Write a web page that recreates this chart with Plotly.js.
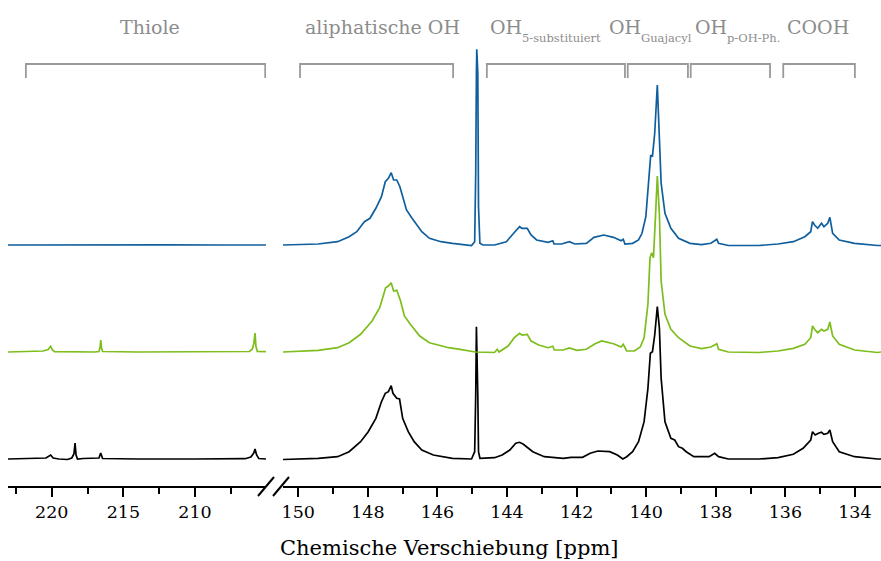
<!DOCTYPE html>
<html>
<head>
<meta charset="utf-8">
<script src="https://cdn.plot.ly/plotly-3.0.1.min.js"></script>
<style>
  html, body { margin: 0; padding: 0; background: #fff; }
  #chart { width: 881px; height: 561px; }
</style>
</head>
<body>
<div id="chart"></div>
<script>
// 31P NMR spectra (three samples), shift in ppm, intensity in arbitrary units.
// Left panel: thiol region (223–205 ppm); right panel: 150.4–133.3 ppm.

// ---- Thiol region ----
const leftPpmBlue   = [223.05, 220.0, 216.0, 212.0, 208.0, 205.05];
const leftIntBlue   = [0, 0.2, 0, 0.2, 0, 0];

const leftPpmGreen  = [223.05, 221.5, 220.6, 220.25, 220.07, 219.95, 219.8, 217.0, 216.7, 216.62, 216.58, 216.52, 216.45, 214.0, 210.0, 207.0, 206.2, 206.0, 205.9, 205.81, 205.75, 205.65, 205.05];
const leftIntGreen  = [0, 0.5, 1, 2.5, 5.7, 2, 0.3, 0, 0.5, 5, 12, 4, 0.5, 0, 0, 0, 0.5, 3, 8, 19, 6, 0.5, 0.3];

const leftPpmBlack  = [223.05, 221.0, 220.4, 220.07, 219.9, 219.5, 218.9, 218.6, 218.45, 218.37, 218.3, 218.2, 217.8, 216.7, 216.58, 216.45, 214.0, 210.0, 206.5, 206.1, 205.9, 205.81, 205.7, 205.55, 205.05];
const leftIntBlack  = [0, 0.5, 1, 4, 1, 0, -0.5, 1, 5, 16, 4, 0, 0.5, 1, 6, 0.5, 0, 0, 0.3, 2, 6, 10, 4, 0.5, 0];

// ---- Aliphatic OH, phenolic OH and COOH region ----
const rightPpmBlue = [150.44, 149.43, 148.87, 148.54, 148.32, 148.10, 147.94, 147.77, 147.61, 147.50, 147.41, 147.33, 147.26, 147.17, 147.08, 147.00, 146.89, 146.73, 146.62, 146.45, 146.23, 145.90, 145.57, 145.24, 145.02, 144.93, 144.90, 144.88, 144.87, 144.84, 144.82, 144.78, 144.69, 144.36, 144.02, 143.81, 143.64, 143.57, 143.42, 143.31, 143.15, 142.82, 142.684, 142.65, 142.43, 142.21, 142.05, 141.72, 141.50, 141.22, 140.94, 140.72, 140.66, 140.61, 140.39, 140.22, 140.12, 140.01, 139.90, 139.87, 139.82, 139.755, 139.68, 139.62, 139.57, 139.46, 139.29, 139.07, 138.74, 138.41, 138.14, 137.97, 137.92, 137.64, 136.76, 136.21, 135.77, 135.44, 135.27, 135.22, 135.16, 135.07, 134.96, 134.89, 134.78, 134.72, 134.64, 134.45, 134.01, 133.35, 133.25];
const rightIntBlue = [0, 1, 3.3, 8.3, 13.3, 23.3, 26.7, 36.7, 48.3, 63.3, 66.7, 72.3, 65, 65, 58.3, 48.3, 35, 26.7, 21.7, 13.3, 6.7, 3.3, 1.7, 0, -0.5, 3.3, 71.7, 171.7, 195.7, 171.7, 38.3, 1.7, 0, 0, 3.3, 11.7, 18.3, 16.7, 16.7, 10, 5, 2.7, 4.3, 1, 1, 3.3, 1, 1.7, 7.7, 10, 7.7, 4.3, 5.7, 1, 1.7, 5, 11.7, 28.3, 71.7, 90, 88.3, 111.7, 160, 111.7, 61.7, 31.7, 16.7, 6.7, 1.7, 0.3, 1.7, 5.7, 1.7, -0.5, -0.5, 1, 3.3, 8.3, 13.3, 23.3, 20, 16.7, 21.7, 18.3, 21.7, 27.7, 11.7, 5, 1.7, -0.5, -0.5];

const rightPpmGreen = [150.44, 149.43, 148.87, 148.54, 148.21, 147.88, 147.66, 147.55, 147.49, 147.41, 147.33, 147.26, 147.17, 147.06, 146.95, 146.78, 146.67, 146.51, 146.23, 145.90, 145.68, 145.35, 144.91, 144.36, 144.28, 144.23, 143.97, 143.79, 143.64, 143.57, 143.42, 143.31, 143.09, 142.82, 142.684, 142.64, 142.38, 142.21, 141.99, 141.72, 141.47, 141.28, 140.94, 140.72, 140.66, 140.56, 140.34, 140.17, 140.06, 139.95, 139.89, 139.84, 139.79, 139.73, 139.68, 139.62, 139.57, 139.46, 139.29, 139.07, 138.74, 138.41, 138.14, 137.97, 137.92, 137.64, 136.76, 136.21, 135.77, 135.44, 135.27, 135.22, 135.16, 135.07, 134.96, 134.89, 134.78, 134.72, 134.64, 134.45, 134.01, 133.35, 133.25];
const rightIntGreen = [0, 1.7, 4.3, 9.3, 17.7, 31, 44.3, 57.7, 64.3, 66, 69.3, 61, 61.7, 51, 36, 27.7, 22.7, 16, 9.3, 6, 4.3, 2.7, 0, -0.5, 2.7, 0, 6, 14.3, 18.7, 17, 17.7, 11, 7, 4.3, 5.7, 2, 2, 4, 1.7, 2.7, 8.3, 11, 8.3, 5, 7.7, 1, 1, 5, 14.3, 47.7, 94.3, 99.3, 94.3, 137.7, 176, 137.7, 71, 37.7, 22.7, 14.3, 6, 3.3, 5, 8.3, 2.7, 0, -0.5, 1, 3.7, 7.7, 14.3, 26, 22.7, 19.3, 22.7, 21, 22.7, 30, 16, 7.7, 2, -0.5, 0];

const rightPpmBlack = [150.44, 149.43, 148.87, 148.54, 148.21, 147.99, 147.77, 147.61, 147.50, 147.41, 147.33, 147.28, 147.17, 147.09, 147.00, 146.84, 146.67, 146.45, 146.12, 145.57, 145.02, 144.93, 144.90, 144.88, 144.84, 144.82, 144.78, 144.36, 144.14, 143.92, 143.75, 143.64, 143.53, 143.42, 143.26, 142.93, 142.684, 142.38, 142.16, 141.83, 141.61, 141.39, 141.05, 140.83, 140.67, 140.56, 140.39, 140.22, 140.06, 139.95, 139.88, 139.82, 139.755, 139.68, 139.62, 139.57, 139.46, 139.29, 139.18, 139.07, 138.96, 138.85, 138.63, 138.19, 138.03, 137.92, 137.64, 136.76, 136.21, 135.77, 135.49, 135.27, 135.22, 135.14, 135.05, 134.96, 134.89, 134.78, 134.72, 134.64, 134.45, 134.01, 133.35, 133.25];
const rightIntBlack = [-0.5, 0.7, 2.3, 7.3, 17.3, 27.3, 40.7, 57.3, 65.7, 67.3, 73.3, 65.7, 60.7, 60, 40.7, 27.3, 17.3, 9, 4, 0.7, 0, 7.3, 64, 132.3, 64, 7.3, 0.7, 1.3, 4, 9, 15.7, 16.7, 14.7, 11.3, 7.3, 2.3, 1.3, 0.7, 1.7, 1.7, 5.7, 8, 7.3, 4, 0, 2.3, 7.3, 17.3, 37.3, 70.7, 105.7, 107.3, 124, 152.3, 130.7, 80.7, 37.3, 20.7, 19, 12.3, 10.7, 7.3, 2.3, 2.3, 5.7, 2.3, 0, 0, 1.3, 4.7, 10.7, 19, 27.3, 24, 25.7, 26.7, 24.7, 25.7, 29, 17.3, 7.3, 2.3, 0, 0];

// Assignment regions shown as brackets above the spectra
const regionLabels = ['Thiole', 'aliphatische OH', 'OH', 'OH', 'OH', 'COOH'];
const regionSubs   = ['', '', '5-substituiert', 'Guajacyl', 'p-OH-Ph.', ''];
const regionStart  = [221.8, 149.95, 144.58, 140.53, 138.72, 136.06];
const regionEnd    = [205.1, 145.55, 140.61, 138.80, 136.44, 134.0];
const regionAxis   = ['x', 'x2', 'x2', 'x2', 'x2', 'x2'];

const axisTitle = 'Chemische Verschiebung [ppm]';

// ---- drawing ----
const W = 881, H = 561, PLOT_H = 486;
const FONT = 'DejaVu Serif, Liberation Serif, serif';
const colors = { blue: '#0f5f9e', green: '#7dbd1c', black: '#000000' };
const stackBase = 27, stackStep = 107;

function shifted(arr, off) { return arr.map(v => v + off); }

const series = [
  { name: 'black', lx: leftPpmBlack, ly: leftIntBlack, rx: rightPpmBlack, ry: rightIntBlack, off: stackBase },
  { name: 'green', lx: leftPpmGreen, ly: leftIntGreen, rx: rightPpmGreen, ry: rightIntGreen, off: stackBase + stackStep },
  { name: 'blue',  lx: leftPpmBlue,  ly: leftIntBlue,  rx: rightPpmBlue,  ry: rightIntBlue,  off: stackBase + 2 * stackStep }
];

const traces = [];
series.forEach(s => {
  const line = { color: colors[s.name], width: 1.7 };
  traces.push({ x: s.lx, y: shifted(s.ly, s.off), xaxis: 'x', yaxis: 'y', mode: 'lines', line, hoverinfo: 'skip' });
  traces.push({ x: s.rx, y: shifted(s.ry, s.off), xaxis: 'x2', yaxis: 'y', mode: 'lines', line, hoverinfo: 'skip' });
});

const axisCommon = {
  anchor: 'y', autorange: false, showline: true, linecolor: '#000', linewidth: 2,
  ticks: 'outside', ticklen: 9, tickwidth: 2, tickcolor: '#000', tick0: 0,
  showgrid: false, zeroline: false, fixedrange: true,
  tickfont: { family: FONT, size: 17.5, color: '#000' }
};

const px = v => v / W;
const py = v => PLOT_H - v;          // pixel row -> y data (1 unit per px)
const ppy = v => (PLOT_H - v) / PLOT_H; // pixel row -> paper y

const shapes = [];
const bracketTop = py(64), bracketLeg = py(78);
regionStart.forEach((a, i) => {
  const b = regionEnd[i];
  shapes.push({
    type: 'path', xref: regionAxis[i], yref: 'y',
    path: `M ${a},${bracketLeg} L ${a},${bracketTop} L ${b},${bracketTop} L ${b},${bracketLeg}`,
    line: { color: '#9a9a9a', width: 1.8 }
  });
});
// axis break marks
[[258, 274], [273, 289]].forEach(([x0, x1]) => {
  shapes.push({ type: 'line', xref: 'paper', yref: 'paper',
    x0: px(x0), y0: ppy(496), x1: px(x1), y1: ppy(477),
    line: { color: '#000', width: 2 } });
});

// label placement (pixels): main text x + anchor, subscript x
const labelPos = [
  { x: 149.5, anchor: 'center' },
  { x: 382.5, anchor: 'center' },
  { x: 488, anchor: 'left', sx: 520 },
  { x: 607, anchor: 'left', sx: 639 },
  { x: 693, anchor: 'left', sx: 725 },
  { x: 818, anchor: 'center' }
];
const LABEL_GREY = '#8c8c8c';
const annotations = [];
regionLabels.forEach((t, i) => {
  const p = labelPos[i];
  annotations.push({
    text: t, xref: 'paper', yref: 'y', x: px(p.x), y: py(14),
    xanchor: p.anchor, yanchor: 'top', showarrow: false,
    font: { family: FONT, size: 19, color: LABEL_GREY }
  });
  if (regionSubs[i]) {
    annotations.push({
      text: regionSubs[i], xref: 'paper', yref: 'y', x: px(p.sx), y: py(29),
      xanchor: 'left', yanchor: 'top', showarrow: false,
      font: { family: FONT, size: 11.5, color: LABEL_GREY }
    });
  }
});
annotations.push({
  text: axisTitle, xref: 'paper', yref: 'paper', x: px(449), y: ppy(548),
  xanchor: 'center', yanchor: 'middle', showarrow: false,
  font: { family: FONT, size: 21, color: '#000' }
});

const layout = {
  width: W, height: H,
  margin: { l: 0, r: 0, t: 0, b: H - PLOT_H, pad: 0 },
  paper_bgcolor: '#fff', plot_bgcolor: '#fff',
  showlegend: false, hovermode: false,
  xaxis: Object.assign({}, axisCommon, {
    domain: [px(8), px(266)], range: [223.05, 205.045], dtick: 5,
    minor: { dtick: 2.5, ticks: 'outside', ticklen: 6, tickwidth: 2, tickcolor: '#000', showgrid: false }
  }),
  xaxis2: Object.assign({}, axisCommon, {
    domain: [px(283), 1], range: [150.44, 133.25], dtick: 2,
    minor: { dtick: 1, ticks: 'outside', ticklen: 6, tickwidth: 2, tickcolor: '#000', showgrid: false }
  }),
  yaxis: { range: [0, PLOT_H], visible: false, fixedrange: true, autorange: false },
  shapes, annotations
};

Plotly.newPlot('chart', traces, layout, { displayModeBar: false, staticPlot: true });
</script>
</body>
</html>
